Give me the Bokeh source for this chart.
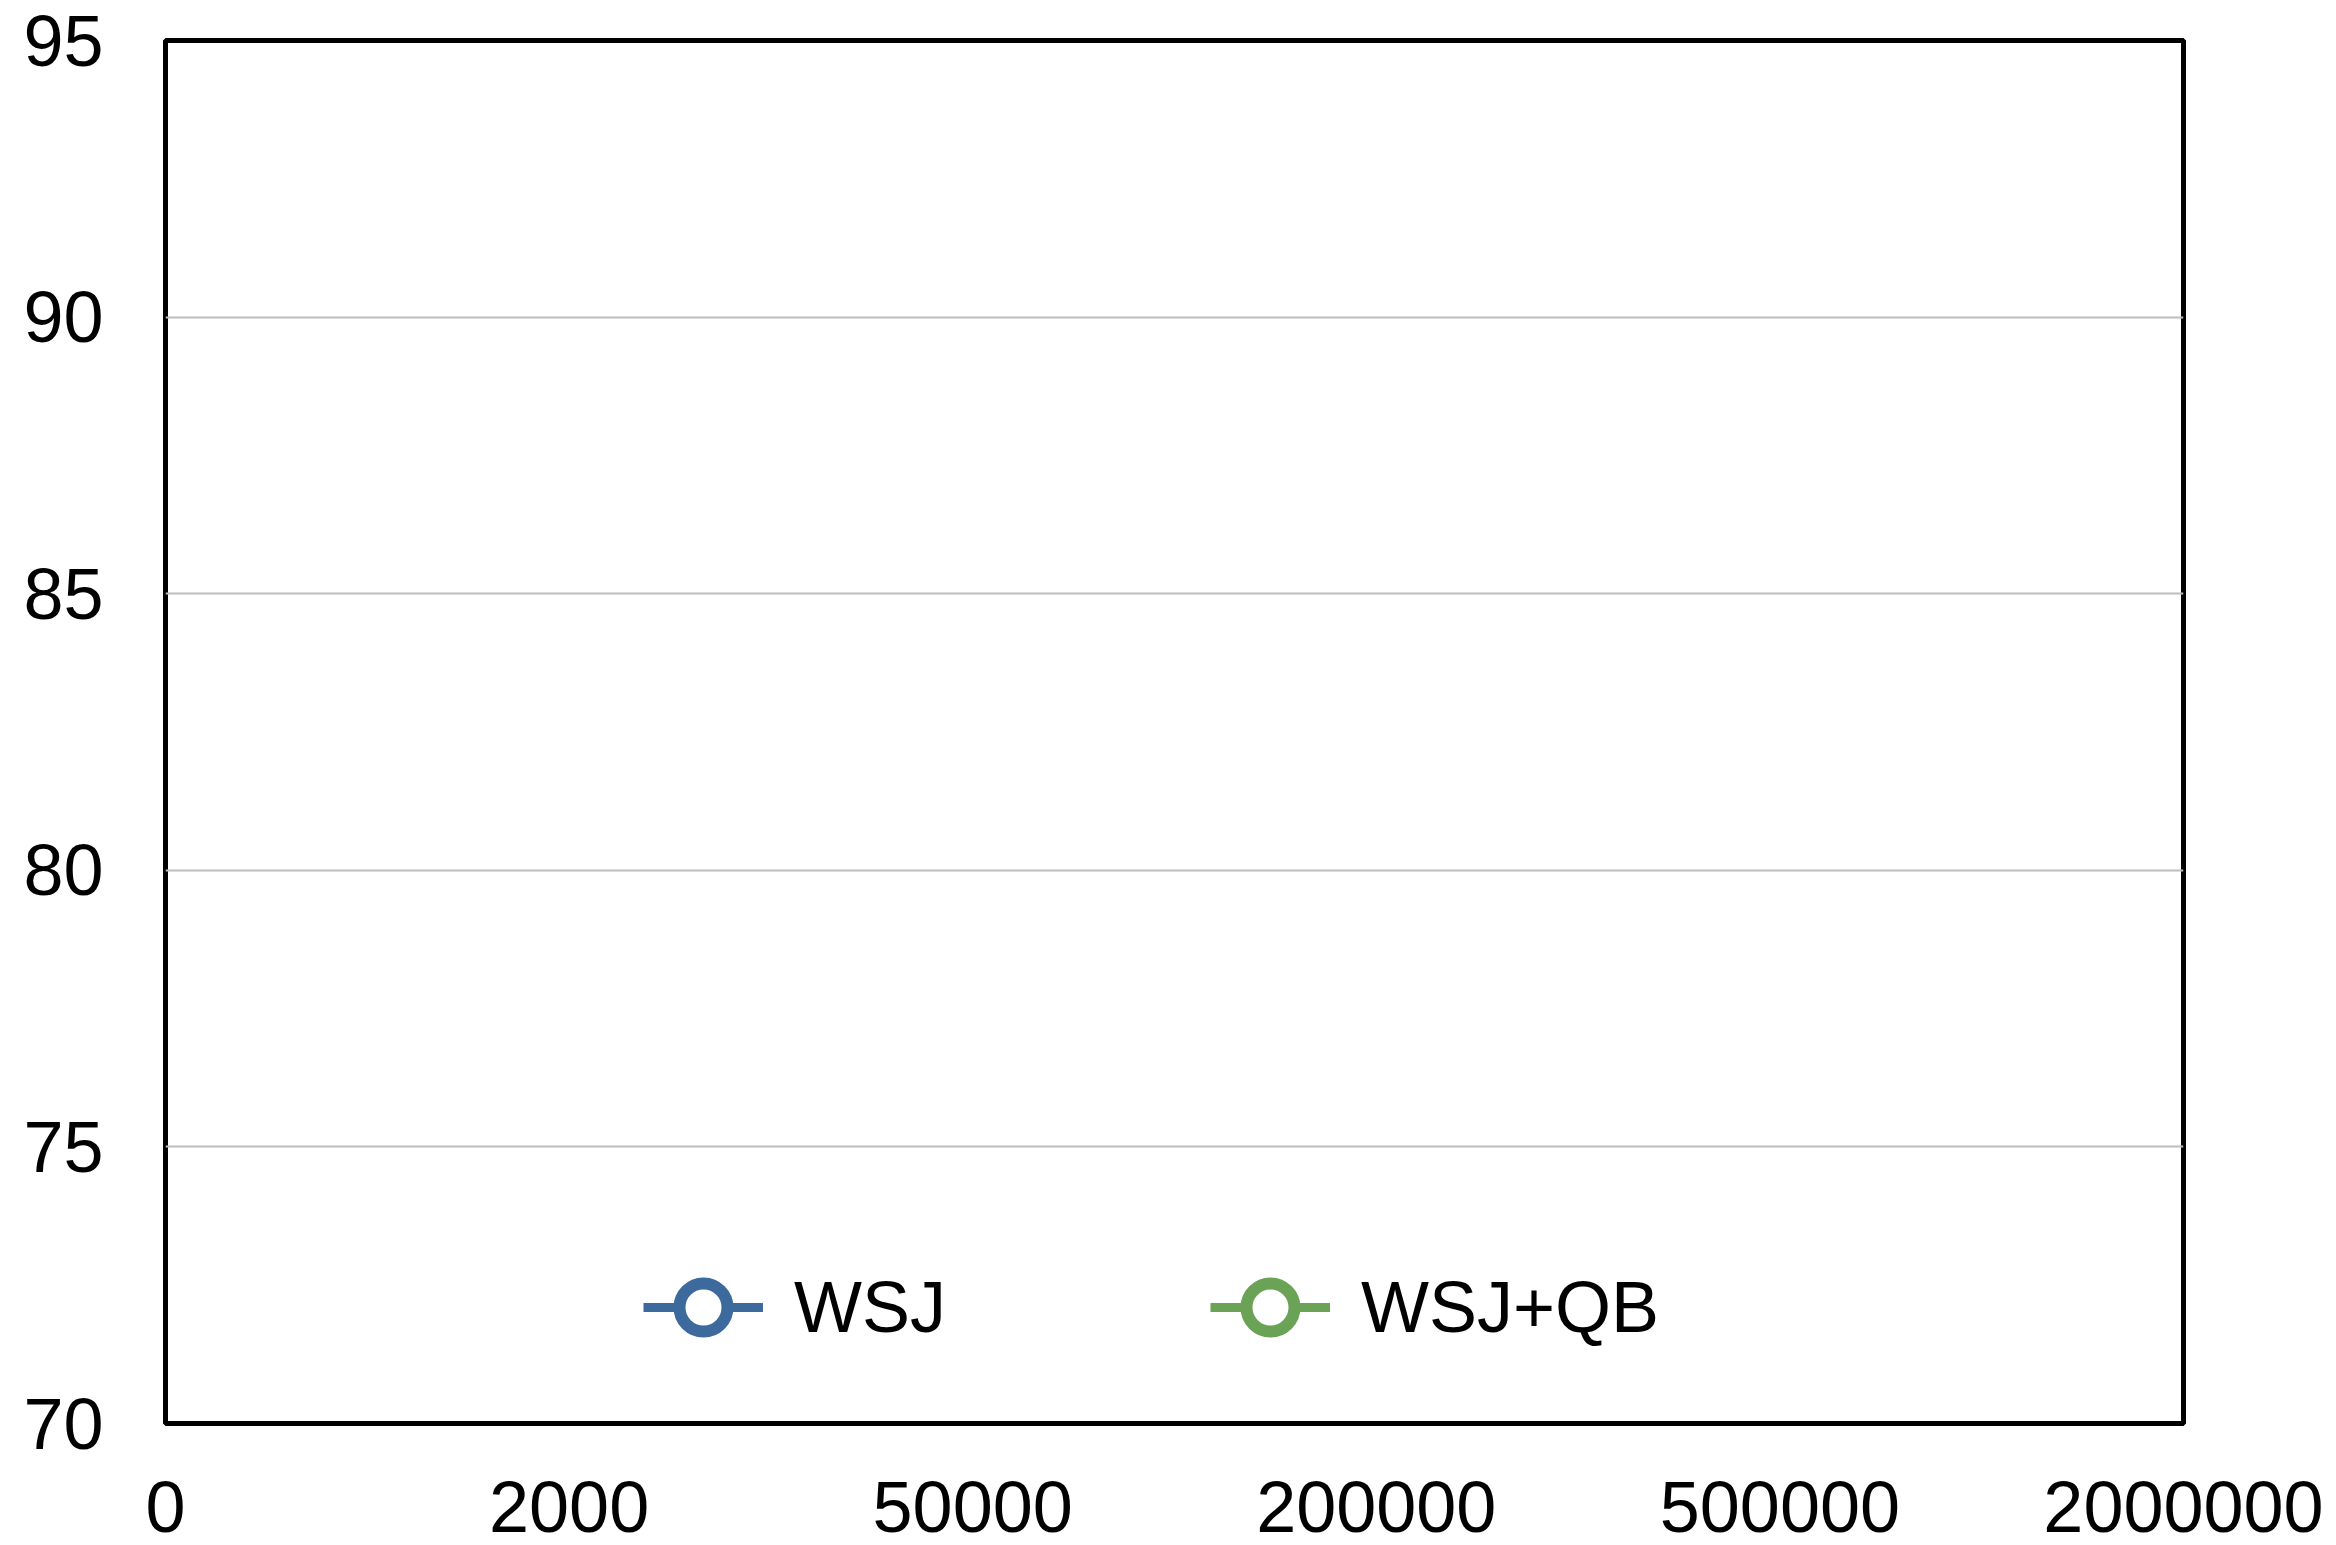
from bokeh.plotting import figure
from bokeh.models import Range1d, FixedTicker, ColumnDataSource, Legend, LegendItem
from bokeh.embed import file_html
from bokeh.resources import INLINE

nan = float("nan")

# ---- data ----
x_labels = ["0", "2000", "50000", "200000", "500000", "2000000"]
y_ticks = [70, 75, 80, 85, 90, 95]
series_names = ["WSJ", "WSJ+QB"]
# no points are visible inside the 70-95 window of the reference
wsj_values = [nan, nan, nan, nan, nan, nan]
wsj_qb_values = [nan, nan, nan, nan, nan, nan]
series_colors = ["#3d6a9c", "#6aa256"]

FONT = "Liberation Sans"

p = figure(width=2330, height=1545, output_backend="svg", toolbar_location=None,
           x_range=Range1d(0, len(x_labels) - 1), y_range=Range1d(70, 95),
           min_border_left=165, min_border_right=147, min_border_top=40, min_border_bottom=122)

p.background_fill_color = "white"
p.border_fill_color = "white"
p.outline_line_color = "black"
p.outline_line_width = 5

# axes
p.xaxis.ticker = FixedTicker(ticks=list(range(len(x_labels))))
p.xaxis.major_label_overrides = {i: lab for i, lab in enumerate(x_labels)}
p.yaxis.ticker = FixedTicker(ticks=y_ticks)
for ax in (p.xaxis, p.yaxis):
    ax.axis_line_color = None
    ax.major_tick_line_color = None
    ax.minor_tick_line_color = None
    ax.major_tick_out = 0
    ax.major_tick_in = 0
    ax.major_label_text_font = FONT
    ax.major_label_text_font_size = "72px"
    ax.major_label_text_color = "black"
p.yaxis.major_label_standoff = 62
p.xaxis.major_label_standoff = 58

# grid
p.xgrid.grid_line_color = None
p.ygrid.ticker = FixedTicker(ticks=y_ticks)
p.ygrid.grid_line_color = "#bdbdbd"
p.ygrid.grid_line_width = 2

# series
items = []
x_idx = list(range(len(x_labels)))
for name, vals, col in zip(series_names, [wsj_values, wsj_qb_values], series_colors):
    src = ColumnDataSource(data=dict(x=x_idx, y=vals))
    r_line = p.line("x", "y", source=src, line_color=col, line_width=9)
    r_pt = p.scatter("x", "y", source=src, marker="circle", size=40, line_color=col,
                     line_width=12, fill_color="white")
    items.append(LegendItem(label=name, renderers=[r_line, r_pt]))

legend = Legend(items=items, orientation="horizontal", location=(478, 41),
                glyph_width=120, glyph_height=150, label_standoff=31, spacing=264,
                padding=0, margin=0, border_line_alpha=0, background_fill_alpha=0,
                label_text_font=FONT, label_text_font_size="72px", label_text_color="black")
p.add_layout(legend, "center")

open("out.html", "w").write(file_html(p, INLINE))
